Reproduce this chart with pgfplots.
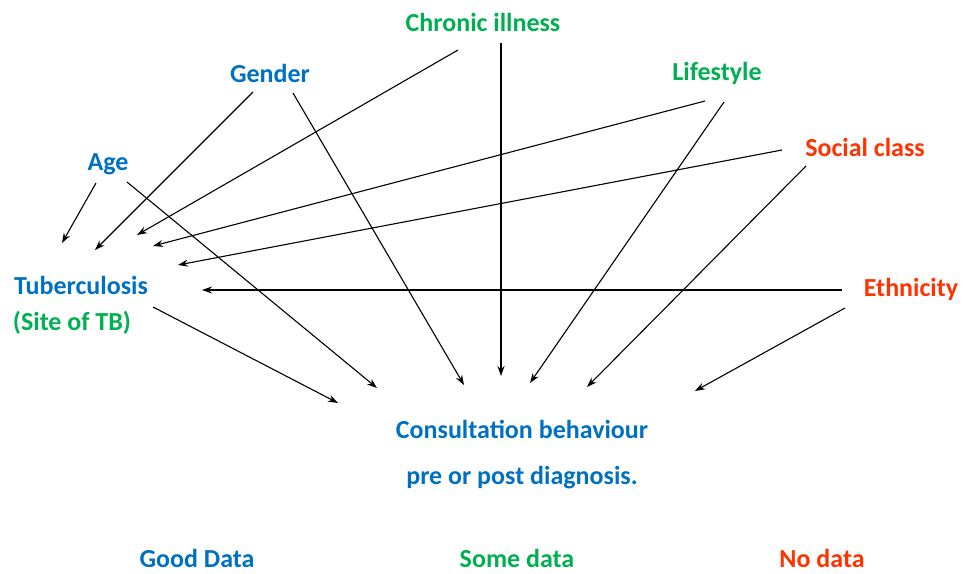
\documentclass[border=0pt]{standalone}
\usepackage{fontspec}
\setmainfont{Carlito}
\usepackage{pgfplots}
\pgfplotsset{compat=1.18}
\usetikzlibrary{arrows.meta}
\definecolor{good}{HTML}{0070C0}
\definecolor{some}{HTML}{00B050}
\definecolor{none}{HTML}{FF3300}
\begin{document}
\begin{tikzpicture}[
  lbl/.style={font=\fontsize{26}{31}\selectfont\bfseries, inner sep=0pt, anchor=center},
  arr/.style={black, line width=1.1pt, no markers, solid, -{Stealth[length=10pt,width=7pt]}},
]
\begin{axis}[
  scale only axis,
  width=963pt, height=573pt,
  xmin=0, xmax=963, ymin=0, ymax=573,
  y dir=reverse,
  hide axis,
  clip=false,
]
% arrows: (from) (to), pixel coordinates
\addplot[arr] coordinates {(96,183) (62,243)};     % age -> TB
\addplot[arr] coordinates {(127,182) (377,388)};   % age -> consultation
\addplot[arr] coordinates {(253,92) (95,250)};     % gender -> TB
\addplot[arr] coordinates {(293,93) (464,385)};    % gender -> consultation
\addplot[arr] coordinates {(458,50) (137,235)};    % chronic -> TB
\addplot[arr] coordinates {(501,43) (501,376)};    % chronic -> consultation
\addplot[arr] coordinates {(705,101) (153,246)};   % lifestyle -> TB
\addplot[arr] coordinates {(724,102) (530,383)};   % lifestyle -> consultation
\addplot[arr] coordinates {(782,150) (178,265)};   % social -> TB
\addplot[arr] coordinates {(806,166) (587,387)};   % social -> consultation
\addplot[arr] coordinates {(842,290) (202,290)};   % ethnicity -> TB
\addplot[arr] coordinates {(845,308) (695,391)};   % ethnicity -> consultation
\addplot[arr] coordinates {(153,307) (338,403)};   % TB -> consultation

\node[lbl, text=some] at (axis cs:483,22) {Chronic illness};
\node[lbl, text=good] at (axis cs:270,73) {Gender};
\node[lbl, text=some] at (axis cs:717,73) {Lifestyle};
\node[lbl, text=good] at (axis cs:108,164) {Age};
\node[lbl, text=none] at (axis cs:865,147) {Social class};
\node[lbl, text=good] at (axis cs:81,285) {Tuberculosis};
\node[lbl, text=some] at (axis cs:72,323) {(Site of TB)};
\node[lbl, text=none] at (axis cs:911,289) {Ethnicity};
\node[lbl, text=good] at (axis cs:522,429) {Consultation behaviour};
\node[lbl, text=good] at (axis cs:522,478) {pre or post diagnosis.};
\node[lbl, text=good] at (axis cs:197,558) {Good Data};
\node[lbl, text=some] at (axis cs:517,558) {Some data};
\node[lbl, text=none] at (axis cs:822,558) {No data};
\end{axis}
\pgfresetboundingbox
\useasboundingbox (current axis.south west) rectangle (current axis.north east);
\end{tikzpicture}
\end{document}
